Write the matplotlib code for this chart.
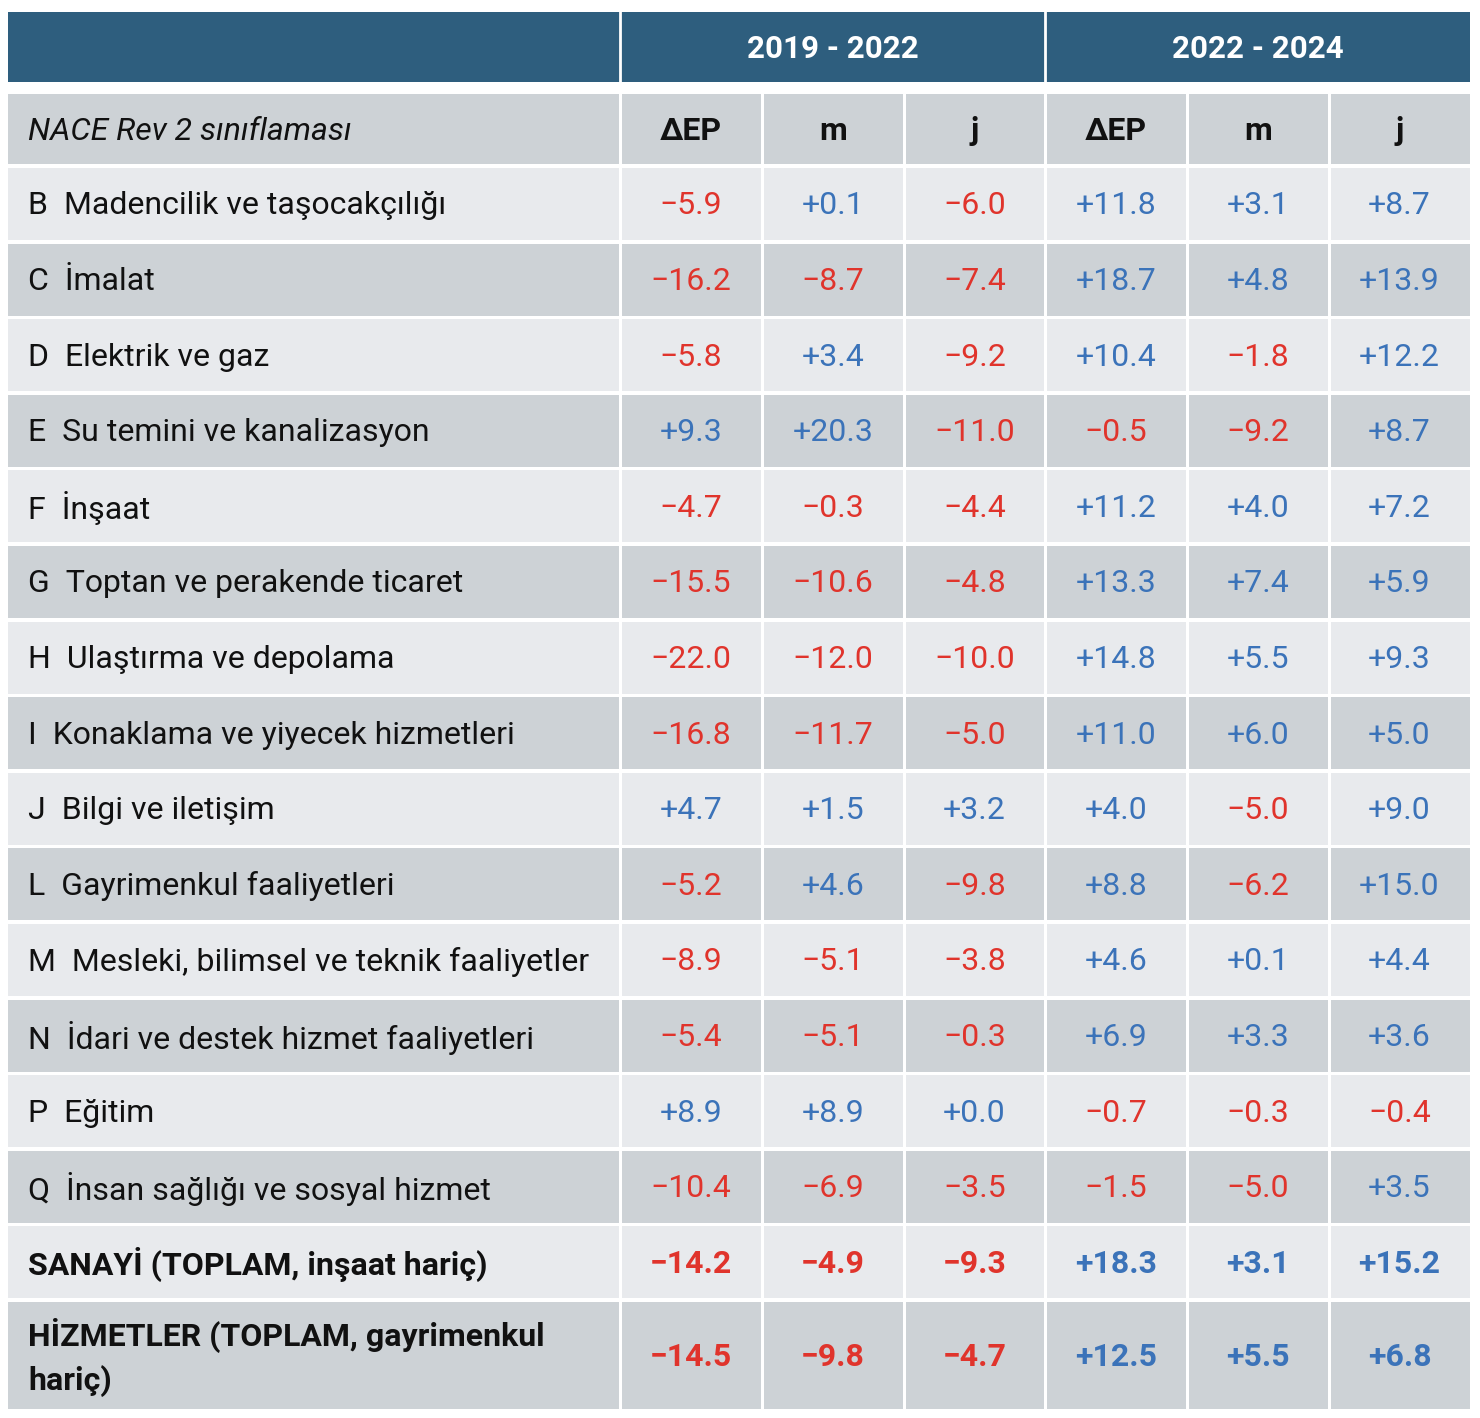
import matplotlib.pyplot as plt
from matplotlib.patches import Rectangle

plt.rcParams['font.family'] = ['Roboto', 'DejaVu Sans']

# Données du tableau
periods = ["2019 - 2022", "2022 - 2024"]
sub_headers = ["ΔEP", "m", "j", "ΔEP", "m", "j"]
first_header = "NACE Rev 2 sınıflaması"

labels = [
    "B  Madencilik ve taşocakçılığı",
    "C  İmalat",
    "D  Elektrik ve gaz",
    "E  Su temini ve kanalizasyon",
    "F  İnşaat",
    "G  Toptan ve perakende ticaret",
    "H  Ulaştırma ve depolama",
    "I  Konaklama ve yiyecek hizmetleri",
    "J  Bilgi ve iletişim",
    "L  Gayrimenkul faaliyetleri",
    "M  Mesleki, bilimsel ve teknik faaliyetler",
    "N  İdari ve destek hizmet faaliyetleri",
    "P  Eğitim",
    "Q  İnsan sağlığı ve sosyal hizmet",
    "SANAYİ (TOPLAM, inşaat hariç)",
    "HİZMETLER (TOPLAM, gayrimenkul\nhariç)",
]
bold_rows = [14, 15]

dep_1 = [-5.9, -16.2, -5.8, 9.3, -4.7, -15.5, -22.0, -16.8, 4.7, -5.2, -8.9, -5.4, 8.9, -10.4, -14.2, -14.5]
m_1 = [0.1, -8.7, 3.4, 20.3, -0.3, -10.6, -12.0, -11.7, 1.5, 4.6, -5.1, -5.1, 8.9, -6.9, -4.9, -9.8]
j_1 = [-6.0, -7.4, -9.2, -11.0, -4.4, -4.8, -10.0, -5.0, 3.2, -9.8, -3.8, -0.3, 0.0, -3.5, -9.3, -4.7]
dep_2 = [11.8, 18.7, 10.4, -0.5, 11.2, 13.3, 14.8, 11.0, 4.0, 8.8, 4.6, 6.9, -0.7, -1.5, 18.3, 12.5]
m_2 = [3.1, 4.8, -1.8, -9.2, 4.0, 7.4, 5.5, 6.0, -5.0, -6.2, 0.1, 3.3, -0.3, -5.0, 3.1, 5.5]
j_2 = [8.7, 13.9, 12.2, 8.7, 7.2, 5.9, 9.3, 5.0, 9.0, 15.0, 4.4, 3.6, -0.4, 3.5, 15.2, 6.8]
columns = [dep_1, m_1, j_1, dep_2, m_2, j_2]

# Couleurs
header_col = "#2E5E7E"
light_col = "#E8EAED"
dark_col = "#CDD2D6"
red = "#E0342C"
blue = "#3B73B9"

# Mise en page (pixels)
col_edges = [8, 620, 762, 904, 1045, 1187, 1329, 1470]
gap = 3
head_top, head_bot = 12, 82
sub_top, sub_bot = 94, 164
row_top0, pitch, row_h = 168, 75.6, 72
last_h = 107
fs = 23
dy = 2  # petit décalage vertical du texte

fig = plt.figure(figsize=(14.8, 14.18), dpi=100)
ax = fig.add_axes([0, 0, 1, 1])
ax.set_xlim(0, 1480)
ax.set_ylim(1418, 0)
ax.axis('off')


def cell(x0, x1, y0, y1, color):
    ax.add_patch(Rectangle((x0, y0), x1 - x0, y1 - y0, facecolor=color, edgecolor='none'))


# En-tête des périodes
cell(col_edges[0], col_edges[-1], head_top, head_bot, header_col)
for xs in [col_edges[1], col_edges[4]]:
    ax.plot([xs, xs], [head_top, head_bot], color='white', lw=2)
for k, p in enumerate(periods):
    xc = (col_edges[1 + 3 * k] + col_edges[4 + 3 * k]) / 2
    ax.text(xc, (head_top + head_bot) / 2 + dy, p, color='white', fontsize=22.5, fontweight='bold',
            ha='center', va='center')

# Sous-en-tête
for c in range(7):
    x0 = col_edges[c] + (gap / 2 if c > 0 else 0)
    x1 = col_edges[c + 1] - (gap / 2 if c < 6 else 0)
    cell(x0, x1, sub_top, sub_bot, dark_col)
ax.text(28, (sub_top + sub_bot) / 2 + dy, first_header, fontsize=fs, style='italic',
        ha='left', va='center', color='#111111')
for c, h in enumerate(sub_headers):
    xc = (col_edges[c + 1] + col_edges[c + 2]) / 2
    ax.text(xc, (sub_top + sub_bot) / 2 + dy, h, fontsize=fs, fontweight='bold',
            ha='center', va='center', color='#111111')

# Lignes de données
for i, lab in enumerate(labels):
    y0 = row_top0 + i * pitch
    h = last_h if i == len(labels) - 1 else row_h
    y1 = y0 + h
    color = light_col if i % 2 == 0 else dark_col
    weight = 'bold' if i in bold_rows else 'normal'
    for c in range(7):
        x0 = col_edges[c] + (gap / 2 if c > 0 else 0)
        x1 = col_edges[c + 1] - (gap / 2 if c < 6 else 0)
        cell(x0, x1, y0, y1, color)
    ax.text(28, (y0 + y1) / 2 + dy, lab, fontsize=fs, fontweight=weight, ha='left', va='center',
            color='#111111', linespacing=1.45)
    for c, vals in enumerate(columns):
        v = vals[i]
        txt = ("+" if v >= 0 else "\u2212") + f"{abs(v):.1f}"
        xc = (col_edges[c + 1] + col_edges[c + 2]) / 2
        ax.text(xc, (y0 + y1) / 2 + dy, txt, fontsize=fs, fontweight=weight, ha='center', va='center',
                color=blue if v >= 0 else red)

fig.savefig("out.png", dpi=100, facecolor='white')
